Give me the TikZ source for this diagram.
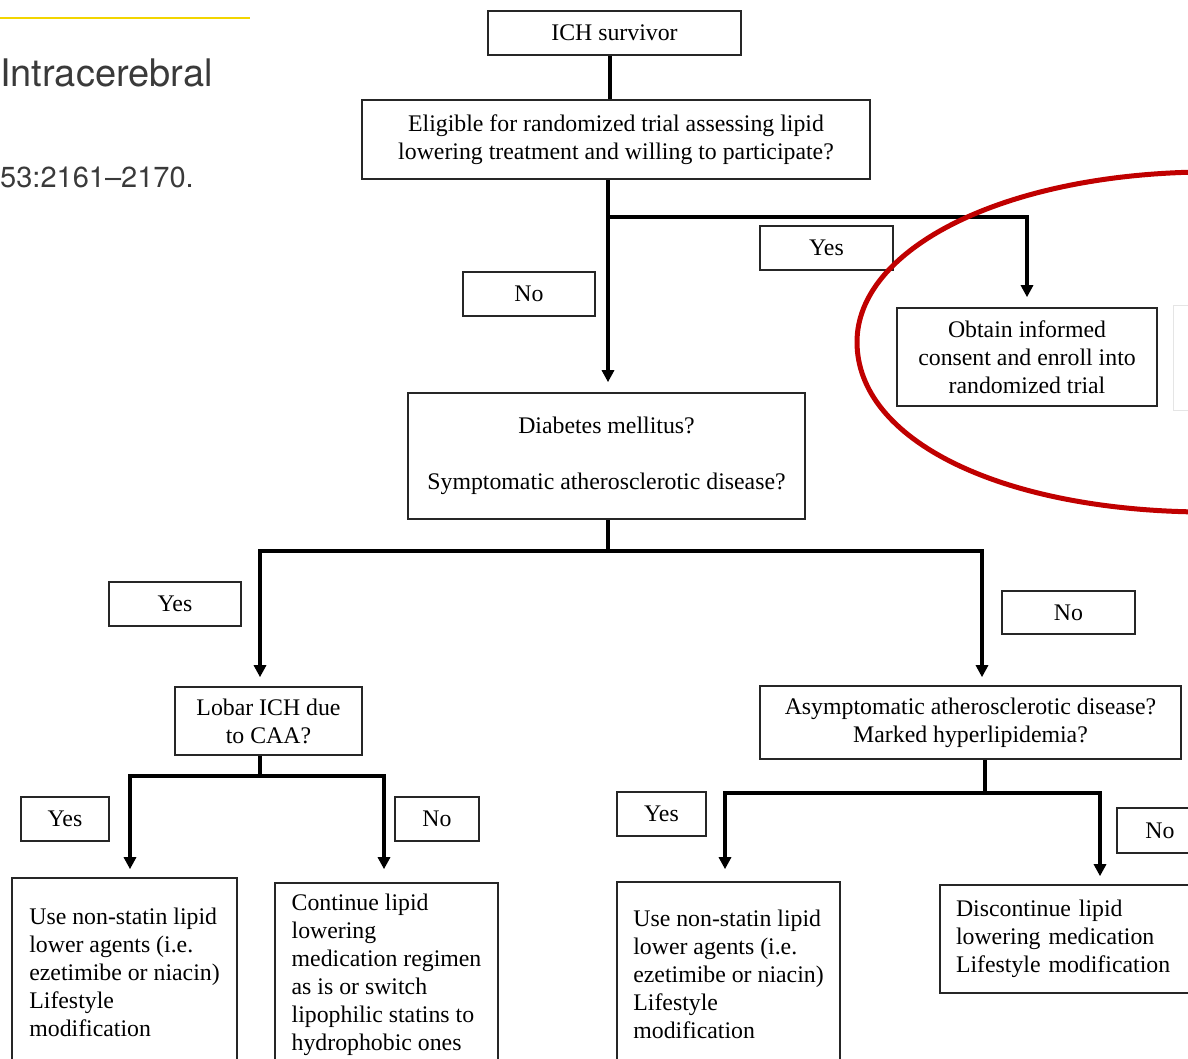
\documentclass[tikz,border=0pt]{standalone}
\usepackage{fontspec}
\setmainfont{Liberation Serif}
\newfontfamily\headfont{TeX Gyre Heros}
\usepackage{tikz}
\usetikzlibrary{arrows.meta,positioning}
\definecolor{ringred}{HTML}{C00000}
\definecolor{rulegold}{HTML}{F2D500}
\definecolor{headgray}{HTML}{3A3A3A}

\begin{document}
\begin{tikzpicture}[x=1pt,y=-1pt]
	\tikzstyle{every node} = [font=\fontsize{23.8}{28}\selectfont, inner sep=0pt]
	\tikzstyle{box} = [draw=black!85, line width=1.6pt, align=center]
	\tikzstyle{tag} = [box, minimum height=44pt]
	\tikzstyle{leaf} = [draw=black!85, line width=1.6pt, align=left]
	\tikzstyle{conn} = [draw, line width=3.2pt]
	\tikzstyle{arr} = [conn, -{Triangle[length=12pt,width=12pt]}, shorten >=9pt]
\path[use as bounding box] (0,0) rectangle (1188,1059);
\clip (0,0) rectangle (1188,1059);
% page header behind the chart
\path[draw=rulegold, line width=2.6pt] (0,18) -- (250,18);
\node[anchor=base west, font=\headfont\fontsize{38}{38}\selectfont, text=headgray] (head) at (0,87) {Intracerebral};
\node[anchor=base west, font=\headfont\fontsize{29}{29}\selectfont, text=headgray] (cite) at (0,188) {53:2161–2170.};
% chart
\node[box, minimum width=253pt, minimum height=44pt] (ich) at (614.5,33) {ICH survivor};
\node[box, minimum width=508pt, minimum height=79pt] (elig) at (616,139.5) {Eligible for randomized trial assessing lipid\\ lowering treatment and willing to participate?};
\node[tag, minimum width=133pt] (yes1) at (826.5,248) {Yes};
\node[tag, minimum width=132pt] (no1) at (529,294) {No};
\node[box, minimum width=260pt, minimum height=98pt] (obtain) at (1027,357) {Obtain informed\\ consent and enroll into\\ randomized trial};
\path[draw=black!10, line width=1pt] (1173,305) rectangle (1210,410);
\node[box, minimum width=397pt, minimum height=126pt] (dm) at (606.5,456) {Diabetes mellitus?\\[28pt] Symptomatic atherosclerotic disease?};
\node[tag, minimum width=132pt] (yes2) at (175,604) {Yes};
\node[tag, minimum width=133pt, minimum height=43pt] (no2) at (1068.5,612.5) {No};
\node[box, minimum width=187pt, minimum height=68pt] (lobar) at (268.5,721) {Lobar ICH due\\ to CAA?};
\node[box, minimum width=421pt, minimum height=73pt] (asym) at (970.5,722.5) {Asymptomatic atherosclerotic disease?\\ Marked hyperlipidemia?};
\node[tag, minimum width=88pt] (yes3) at (65,819) {Yes};
\node[tag, minimum width=84pt] (no3) at (437,819) {No};
\node[tag, minimum width=89pt] (yes4) at (661.5,814) {Yes};
\node[tag, minimum width=86pt, minimum height=45pt] (no4) at (1160,830.5) {No};
\node[leaf, minimum width=225pt, minimum height=188pt] (usel) at (124.5,972) {Use non-statin lipid\\ lower agents (i.e.\\ ezetimibe or niacin)\\ Lifestyle\\ modification};
\node[leaf, minimum width=223pt, minimum height=184pt] (cont) at (386.5,975) {Continue lipid\\ lowering\\ medication regimen\\ as is or switch\\ lipophilic statins to\\ hydrophobic ones};
\node[leaf, minimum width=223pt, minimum height=184pt] (user) at (728.5,974) {Use non-statin lipid\\ lower agents (i.e.\\ ezetimibe or niacin)\\ Lifestyle\\ modification};
\node[leaf, minimum width=260pt, minimum height=108pt, text width=228pt] (stop) at (1070,939) {Discontinue lipid\\ lowering medication\\ Lifestyle modification};
% connectors
\coordinate (j0) at (610,78);
\coordinate (j1) at (608,217);
\coordinate (j2) at (608,551);
\coordinate (j2l) at (260,551);
\coordinate (j2r) at (982,551);
\coordinate (j3) at (260,776);
\coordinate (j3l) at (130,776);
\coordinate (j3r) at (384,776);
\coordinate (j4) at (985,793);
\coordinate (j4l) at (725,793);
\coordinate (j4r) at (1100,793);
	\path[conn] (ich.south -| j0) -- (elig.north -| j0);
	\path[conn] (elig.south -| j1) -- (j1);
	\path[arr, shorten >=10pt] (j1) -- (dm.north -| j1);
	\path[arr, shorten >=10pt] (j1) -| (obtain.north);
	\path[conn] (dm.south -| j2) -- (j2);
	\path[arr] (j2) -- (j2l) -- (lobar.north -| j2l);
	\path[arr, shorten >=8pt] (j2) -- (j2r) -- (asym.north -| j2r);
	\path[conn] (lobar.south -| j3) -- (j3);
	\path[arr, shorten >=8pt] (j3) -- (j3l) -- (usel.north -| j3l);
	\path[arr, shorten >=13pt] (j3) -- (j3r) -- (cont.north -| j3r);
	\path[conn] (asym.south -| j4) -- (j4);
	\path[arr, shorten >=12pt] (j4) -- (j4l) -- (user.north -| j4l);
	\path[arr, shorten >=8pt] (j4) -- (j4r) -- (stop.north -| j4r);
% red ring round the trial branch
\path[draw=ringred, line width=5pt] (1200,172) .. controls (1000,175) and (857,250) .. (857,342) .. controls (857,440) and (1000,510) .. (1200,512);
\end{tikzpicture}
\end{document}
